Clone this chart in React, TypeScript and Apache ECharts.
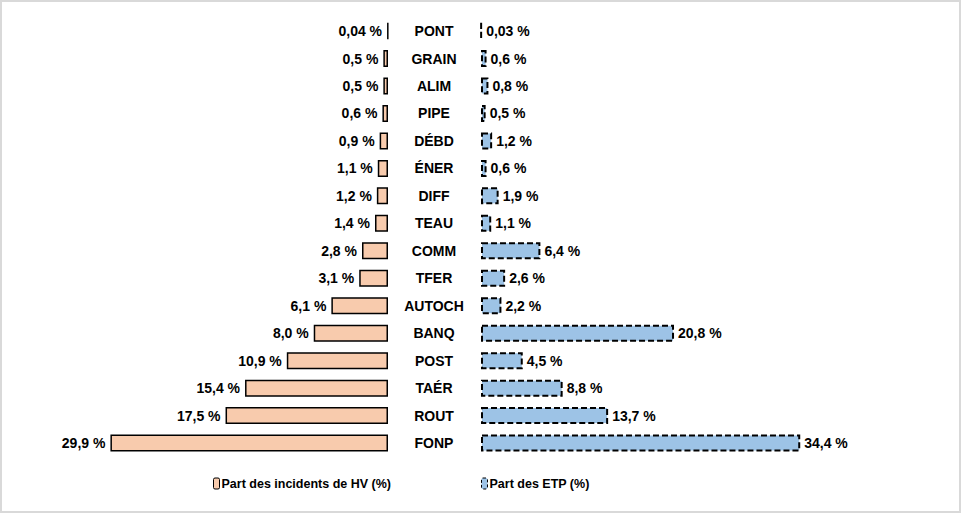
import React, { useEffect, useRef } from "react";
import * as echarts from "echarts";

const categories = ["PONT", "GRAIN", "ALIM", "PIPE", "DÉBD", "ÉNER", "DIFF", "TEAU", "COMM", "TFER", "AUTOCH", "BANQ", "POST", "TAÉR", "ROUT", "FONP"];
const hvShare = [0.04, 0.5, 0.5, 0.6, 0.9, 1.1, 1.2, 1.4, 2.8, 3.1, 6.1, 8.0, 10.9, 15.4, 17.5, 29.9];
const etpShare = [0.03, 0.6, 0.8, 0.5, 1.2, 0.6, 1.9, 1.1, 6.4, 2.6, 2.2, 20.8, 4.5, 8.8, 13.7, 34.4];
const seriesNames = ["Part des incidents de HV (%)", "Part des ETP (%)"];

const fmt = (v: number) => (v < 0.1 ? v.toFixed(2) : v.toFixed(1)).replace(".", ",") + " %";

export default function App() {
  const ref = useRef<HTMLDivElement>(null);
  useEffect(() => {
    if (!ref.current) return;
    const chart = echarts.init(ref.current, null, { renderer: "svg" });
    const font = "'Liberation Sans', Arial, sans-serif";
    const labelStyle = { fontFamily: font, fontWeight: "bold" as const, fontSize: 14, color: "#000" };
    const legendText = { fontFamily: font, fontWeight: "bold" as const, fontSize: 12.5, color: "#000", padding: [0, 0, 0, -3] };
    chart.setOption({
      animation: false,
      backgroundColor: "#fff",
      grid: [
        { left: 109.5, width: 278.5, top: 17.3, height: 439.5 },
        { left: 481, width: 324.8, top: 17.3, height: 439.5 },
      ],
      xAxis: [
        { type: "value", gridIndex: 0, min: 0, max: 30, inverse: true, show: false },
        { type: "value", gridIndex: 1, min: 0, max: 35, show: false },
      ],
      yAxis: [
        { type: "category", gridIndex: 0, data: categories, inverse: true, show: false },
        {
          type: "category",
          gridIndex: 1,
          data: categories,
          inverse: true,
          position: "left",
          axisLine: { show: false },
          axisTick: { show: false },
          axisLabel: { margin: 47, align: "center", fontFamily: font, fontWeight: "bold", fontSize: 14, color: "#000" },
        },
      ],
      legend: [
        {
          left: 208,
          top: 472,
          data: [seriesNames[0]],
          itemWidth: 6,
          itemHeight: 11,
          textStyle: legendText,
          itemStyle: { color: "#F8CBAD", borderColor: "#000", borderWidth: 1 },
        },
        {
          left: 476,
          top: 472,
          data: [seriesNames[1]],
          itemWidth: 6,
          itemHeight: 11,
          textStyle: legendText,
          itemStyle: { color: "#9DC3E6", borderColor: "#000", borderWidth: 1, borderType: [3, 2] },
        },
      ],
      graphic: [
        { type: "rect", shape: { x: 1, y: 1, width: 959, height: 511 }, style: { fill: "none", stroke: "#D9D9D9", lineWidth: 2 }, silent: true },
      ],
      series: [
        {
          name: seriesNames[0],
          type: "bar",
          xAxisIndex: 0,
          yAxisIndex: 0,
          data: hvShare,
          barWidth: 17,
          itemStyle: { color: "#F8CBAD", borderColor: "#000", borderWidth: 1.5 },
          label: { show: true, position: "left", distance: 5, formatter: (p: any) => fmt(p.value), ...labelStyle },
        },
        {
          name: seriesNames[1],
          type: "bar",
          xAxisIndex: 1,
          yAxisIndex: 1,
          data: etpShare,
          barWidth: 17,
          itemStyle: { color: "#9DC3E6", borderColor: "#000", borderWidth: 2, borderType: [6, 3] },
          label: { show: true, position: "right", distance: 4, formatter: (p: any) => fmt(p.value), ...labelStyle },
        },
      ],
    });
    return () => chart.dispose();
  }, []);
  return <div ref={ref} style={{ position: "fixed", left: 0, top: 0, width: 961, height: 513 }} />;
}
